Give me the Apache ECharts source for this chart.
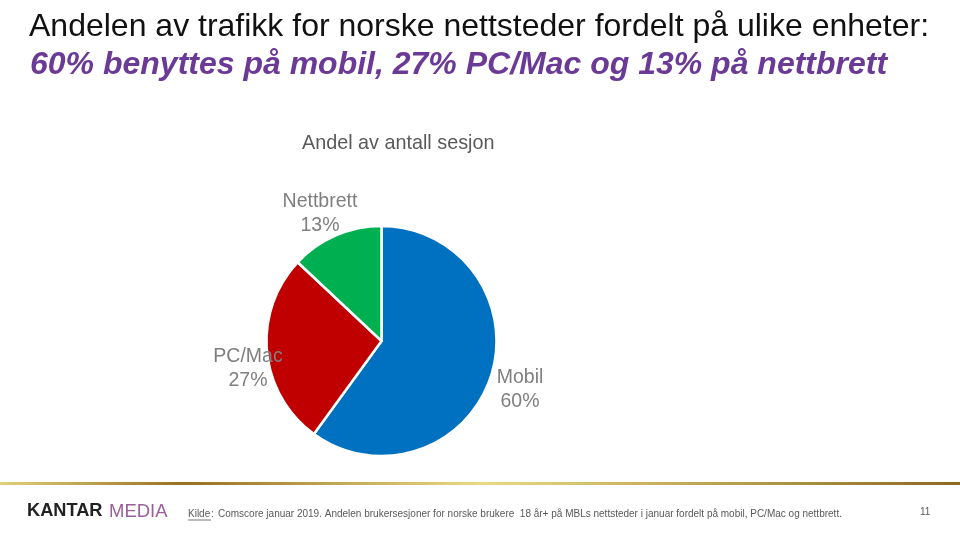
<!DOCTYPE html>
<html><head><meta charset="utf-8">
<style>html,body{margin:0;padding:0;background:#fff}#c{width:960px;height:540px}</style>
<script src="https://cdn.jsdelivr.net/npm/echarts@6/dist/echarts.min.js"></script></head>
<body><div id="c"></div>
<script>
const categories = ['Mobil', 'PC/Mac', 'Nettbrett'];
const shares = [60, 27, 13];
const sliceColors = ['#0070C0', '#C00000', '#00B050'];
const titleLine1 = 'Andelen av trafikk for norske nettsteder fordelt på ulike enheter:';
const titleLine2 = '60% benyttes på mobil, 27% PC/Mac og 13% på nettbrett';
const subtitle = 'Andel av antall sesjon';
const source = 'Comscore januar 2019. Andelen brukersesjoner for norske brukere  18 år+ på MBLs nettsteder i januar fordelt på mobil, PC/Mac og nettbrett.';
const labelSpots = {Mobil: [520, 388], 'PC/Mac': [248, 367], Nettbrett: [320, 212]};
const F = '"Liberation Sans", Arial, sans-serif';
const chart = echarts.init(document.getElementById('c'), null, {renderer: 'canvas'});
chart.setOption({
  animation: false,
  backgroundColor: '#fff',
  graphic: [
    {type: 'text', left: 29, top: 11, style: {text: titleLine1, font: '32px ' + F, fill: '#111'}},
    {type: 'text', left: 30, top: 49, style: {text: titleLine2, font: 'italic bold 32px ' + F, fill: '#6B3A96'}},
    {type: 'text', left: 302, top: 134, style: {text: subtitle, font: '19.8px ' + F, fill: '#595959'}},
    {type: 'rect', shape: {x: 0, y: 482, width: 960, height: 3},
      style: {fill: new echarts.graphic.LinearGradient(0, 0, 1, 0, [
        {offset: 0, color: '#E3CF78'}, {offset: 0.19, color: '#94721F'}, {offset: 0.5, color: '#EBD981'}, {offset: 1, color: '#8A6A20'}])}},
    {type: 'text', left: 27, top: 502, style: {text: 'KANTAR', font: 'bold 18.2px ' + F, fill: '#222'}},
    {type: 'text', left: 109, top: 502, style: {text: 'MEDIA', font: '18.5px ' + F, fill: '#9B5F9B'}},
    {type: 'text', left: 188, top: 509, style: {text: 'Kilde', font: '10px ' + F, fill: '#595959'}},
    {type: 'rect', shape: {x: 188, y: 519.5, width: 23, height: 1}, style: {fill: '#777'}},
    {type: 'text', left: 211, top: 509, style: {text: ':', font: '10px ' + F, fill: '#595959'}},
    {type: 'text', left: 218, top: 509, style: {text: source, font: '10px ' + F, fill: '#595959'}},
    {type: 'text', left: 920, top: 507, style: {text: '11', font: '10px ' + F, fill: '#595959'}}
  ],
  series: [{
    type: 'pie',
    center: [381.5, 341],
    radius: [0, 115],
    startAngle: 90,
    clockwise: true,
    data: categories.map((n, i) => ({name: n, value: shares[i], itemStyle: {color: sliceColors[i]}})),
    itemStyle: {borderColor: '#fff', borderWidth: 2.5},
    label: {show: true, position: 'outside', formatter: p => p.name + '\n' + p.value + '%',
      fontFamily: F, fontSize: 19.5, lineHeight: 24, color: '#7F7F7F', align: 'center'},
    labelLine: {show: false},
    labelLayout: p => {
      const s = labelSpots[categories[p.dataIndex]];
      return {x: s[0], y: s[1] + 2, align: 'center', verticalAlign: 'middle'};
    },
    emphasis: {disabled: true}
  }]
});
</script></body></html>
